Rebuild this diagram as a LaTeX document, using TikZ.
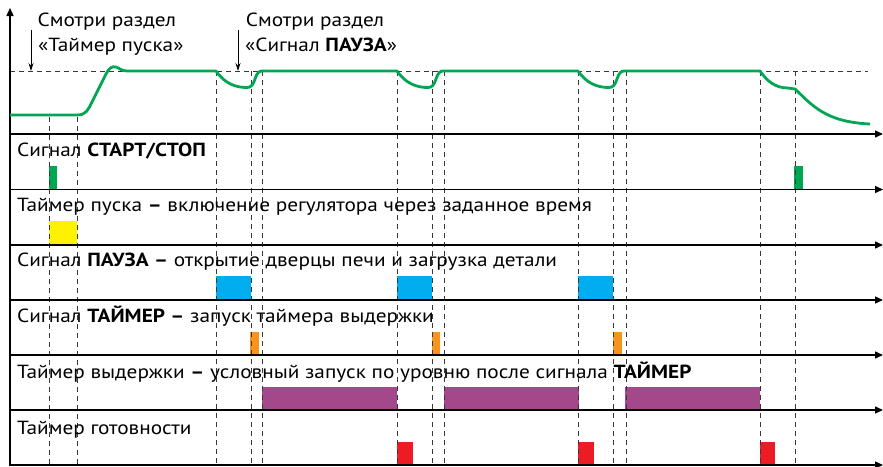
\documentclass[tikz,border=0pt]{standalone}
\usepackage{fontspec}
\setmainfont[FakeStretch=1.12]{PT Sans}
\usetikzlibrary{arrows.meta}
\definecolor{cgreen}{HTML}{00A651}
\definecolor{cyellow}{HTML}{FFF200}
\definecolor{cblue}{HTML}{00AEEF}
\definecolor{corange}{HTML}{F7941D}
\definecolor{cpurple}{HTML}{A3488A}
\definecolor{cred}{HTML}{ED1C24}
\definecolor{cdash}{HTML}{383838}
\begin{document}
\begin{tikzpicture}[x=1pt,y=-1pt,
  axis/.style={line width=1.4pt,-{Triangle[length=8pt,width=7pt]}},
  guide/.style={cdash,line width=1pt,dash pattern=on 5pt off 4pt},
  lbl/.style={anchor=base west,inner sep=0pt,font=\fontsize{19}{23}\selectfont},
  curve/.style={cgreen,line width=2.8pt,line join=round},
  note/.style={-{Stealth[length=8pt,width=5pt]},line width=0.8pt}]
\useasboundingbox (0,0) rectangle (883,466);
% bars
\fill[cgreen] (49,166) rectangle (57,189.5);
\fill[cgreen] (794,166) rectangle (803,189.5);
\fill[cyellow] (49,221) rectangle (77,245);
\foreach \a/\b in {216/251,397/432,578/613} \fill[cblue] (\a,276) rectangle (\b,300);
\foreach \a/\b in {250/259,432/440,613/622} \fill[corange] (\a,332) rectangle (\b,355);
\foreach \a/\b in {262/397,444/579,625/760} \fill[cpurple] (\a,387) rectangle (\b,410);
\foreach \a/\b in {397/413,578/594,760/775} \fill[cred] (\a,442) rectangle (\b,465);
% guides
\draw[guide] (10,71) -- (868,71);
\foreach \x in {49,77} \draw[guide] (\x,117) -- (\x,466);
\foreach \x in {216,251,262,397,432,444,578,613,626,760,795} \draw[guide] (\x,71) -- (\x,466);
% axes
\draw[axis] (10,466) -- (10,8);
\foreach \y in {134,189.5,245,300,355,410,465} \draw[axis] (10,\y) -- (883,\y);
% curve
\draw[curve] (10,115) -- (77,115) .. controls (86,115) and (88,110) .. (92,102) -- (106,74)
  .. controls (109,68) and (112,66) .. (116,67) .. controls (119,68) and (122,71) .. (127,71)
  -- (216,71)
  \foreach \s in {0,181,362}{ -- ({216+\s},71) .. controls ({225+\s},84) and ({236+\s},87.5) .. ({247+\s},87.5)
  .. controls ({251+\s},87.5) and ({253+\s},85) .. ({255+\s},79) .. controls ({257+\s},73) and ({259+\s},70.5) .. ({263+\s},71)}
  -- (760,71) .. controls (767,81) and (775,88) .. (788,88) -- (795,89)
  .. controls (812,105) and (825,122) .. (870,124);
% notes
\node[lbl] (n1a) at (37.5,26.7) {Смотри раздел};
\node[lbl] (n1b) at (38,51.7) {«Таймер пуска»};
\node[lbl] (n2a) at (245.7,26.7) {Смотри раздел};
\node[lbl] (n2b) at (245,51.7) {«Сигнал \textbf{ПАУЗА}»};
\coordinate (t1) at (31,71);
\coordinate (t2) at (238,71);
\draw[note] (31,30) -- (t1);
\draw[note] (238,30) -- (t2);
% row labels
\node[lbl] (r1) at (17,156) {Сигнал \textbf{СТАРТ/СТОП}};
\node[lbl] (r2) at (17,211.5) {Таймер пуска \textbf{–} включение регулятора через заданное время};
\node[lbl] (r3) at (17,266.5) {Сигнал \textbf{ПАУЗА –} открытие дверцы печи и загрузка детали};
\node[lbl] (r4) at (17,322.5) {Сигнал \textbf{ТАЙМЕР –} запуск таймера выдержки};
\node[lbl] (r5) at (17,378) {Таймер выдержки \textbf{–} условный запуск по уровню после сигнала \textbf{ТАЙМЕР}};
\node[lbl] (r6) at (17,434) {Таймер готовности};
\end{tikzpicture}
\end{document}
